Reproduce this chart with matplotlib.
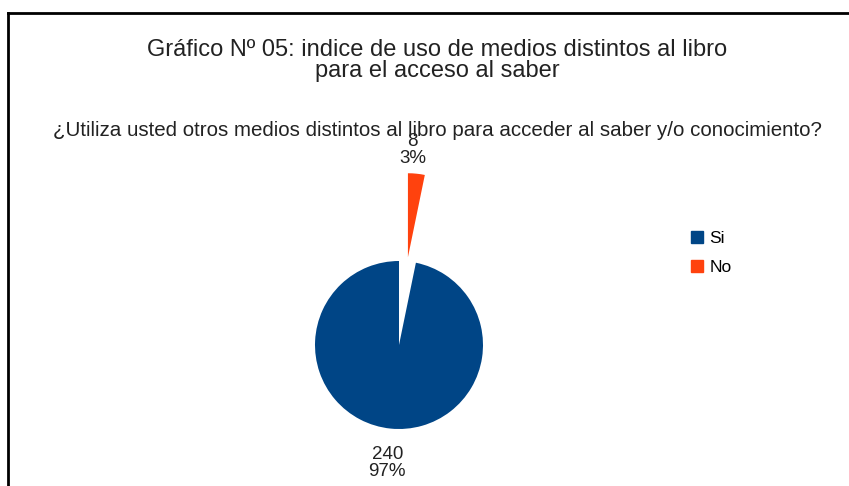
import matplotlib
matplotlib.use('Agg')
import matplotlib.pyplot as plt
from matplotlib.lines import Line2D

plt.rcParams['font.family'] = ['Liberation Sans', 'DejaVu Sans']

# data
categorias = ['Si', 'No']
valores = [240, 8]
porcentajes = ['97%', '3%']
colores = ['#004586', '#ff420e']

fig = plt.figure(figsize=(8.49, 4.86), dpi=100)
fig.patch.set_facecolor('white')

# frame of the original picture (only top and left visible)
fig.add_artist(Line2D([8/849, 8/849], [0, 1 - 13/486], color='black', lw=2))
fig.add_artist(Line2D([8/849, 1], [1 - 13/486, 1 - 13/486], color='black', lw=2))

cx = 437 / 849
fig.text(cx, 1 - 50/486, 'Gráfico Nº 05: indice de uso de medios distintos al libro',
         ha='center', va='center', fontsize=17, color='#222222')
fig.text(cx, 1 - 71/486, 'para el acceso al saber',
         ha='center', va='center', fontsize=17, color='#222222')
fig.text(cx, 1 - 130/486,
         '¿Utiliza usted otros medios distintos al libro para acceder al saber y/o conocimiento?',
         ha='center', va='center', fontsize=14.8, color='#222222')

# pie axes: centre ~ (399, 345), radius ~84 px
r = 84
ax = fig.add_axes([(399 - r) / 849, (486 - 345 - r) / 486, 2 * r / 849, 2 * r / 486])
etiquetas = [f'{v}\n{p}' for v, p in zip(valores, porcentajes)]
wedges, texts = ax.pie(valores, colors=colores, startangle=90, counterclock=True,
                       explode=[0, 1.05], labels=etiquetas, labeldistance=1.38,
                       radius=1, textprops={'fontsize': 13.5, 'color': '#222222'})
for t in texts:
    t.set_ha('center')
    t.set_linespacing(1.0)
# small nudges so the labels sit where the original puts them
x0, y0 = texts[0].get_position()
texts[0].set_position((x0, y0 - 3 / r))
x1, y1 = texts[1].get_position()
texts[1].set_position((x1 - 7 / r, y1 - 8 / r))
ax.set_xlim(-1, 1)
ax.set_ylim(-1, 1)
ax.set_aspect('equal')
ax.axis('off')

handles = [Line2D([], [], marker='s', ls='', color=c, markersize=8) for c in colores]
fig.legend(handles, categorias, loc='center left', bbox_to_anchor=(674/849, 1 - 253/486),
           frameon=False, fontsize=12.5, handlelength=0.8, handletextpad=0.35,
           labelspacing=0.75)

fig.savefig('out.png', dpi=100, facecolor='white')
